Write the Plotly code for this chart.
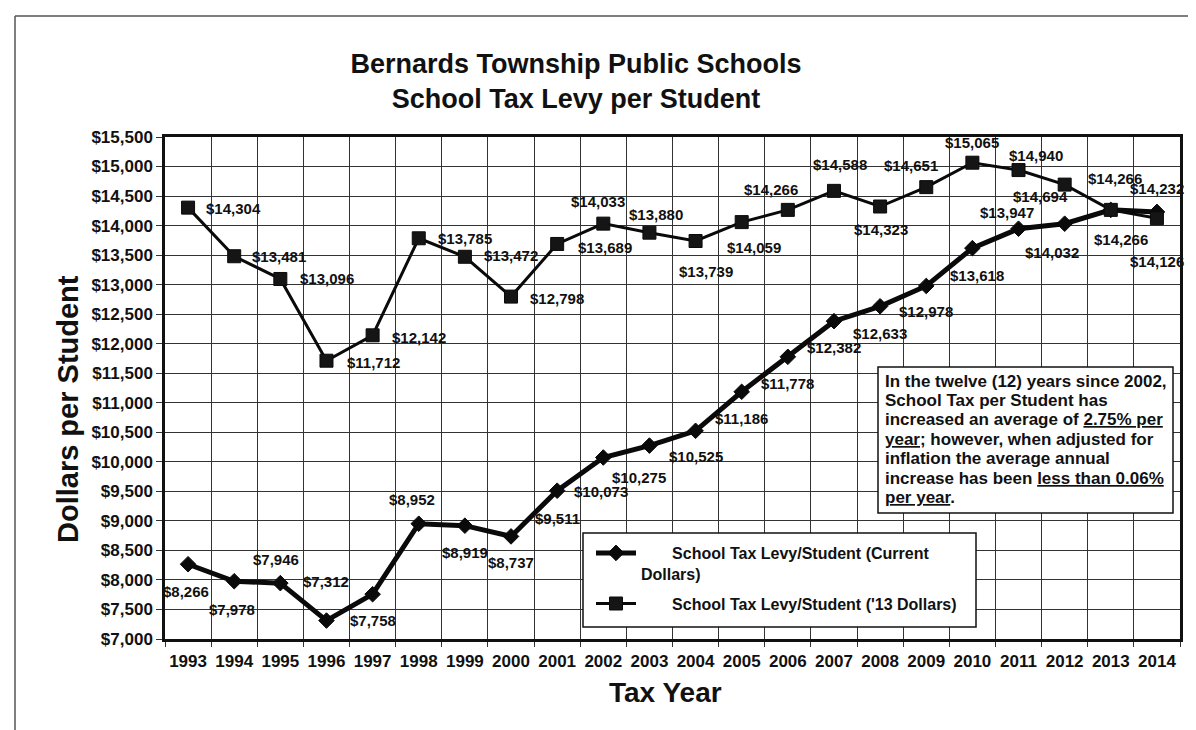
import plotly.graph_objects as go

# ---------------- data ----------------
years = list(range(1993, 2015))
current_dollars = [8266, 7978, 7946, 7312, 7758, 8952, 8919, 8737, 9511, 10073, 10275,
                   10525, 11186, 11778, 12382, 12633, 12978, 13618, 13947, 14032, 14266, 14232]
dollars_2013 = [14304, 13481, 13096, 11712, 12142, 13785, 13472, 12798, 13689, 14033, 13880,
                13739, 14059, 14266, 14588, 14323, 14651, 15065, 14940, 14694, 14266, 14126]
y_tick_values = list(range(7000, 15501, 500))
series_names = ["<b>&nbsp;&nbsp;&nbsp;&nbsp;&nbsp;&nbsp;&nbsp;School Tax Levy/Student (Current<br>Dollars)</b>",
                "<b>&nbsp;&nbsp;&nbsp;&nbsp;&nbsp;&nbsp;&nbsp;School Tax Levy/Student ('13 Dollars)</b>"]
note_lines = [
    "In the twelve (12) years since 2002,",
    "School Tax per Student has",
    "increased an average of <u>2.75% per</u>",
    "<u>year</u>; however, when adjusted for",
    "inflation the average annual",
    "increase has been <u>less than 0.06%</u>",
    "<u>per year</u>.",
]

# label offsets in pixels (dx right, dy down) -- styling only
cur_dx = [-2, -2, -4, 0, 0, -7, 0, 0, 0, -2, -10, 0, 0, 0, 0, 0, 0, 5, -12, -13, 10, 0]
cur_dy = [27, 28, -24, -39, 26, -24, 27, 26, 28, 34, 32, 26, 27, 27, 26, 27, 26, 27, -16, 29, 30, -23]
r13_dx = [45, 45, 47, 47, 46, 46, 46, 46, 48, -5, 7, 10, 12, -17, 6, 1, -15, 0, 17, -24, 4, 0]
r13_dy = [1, 0, 0, 2, 2, 0, -1, 2, 4, -22, -18, 30, 25, -20, -26, 23, -22, -20, -15, 12, -31, 43]

FONT = "Arial, Liberation Sans, Helvetica, sans-serif"
L, R, T, B = 157, 24, 129, 99
W, H = 1196, 730
PW, PH = W - L - R, H - T - B


def px_x(x):
    return (x - L) / PW


def px_y(y):
    return (H - B - y) / PH


fig = go.Figure()

fig.add_trace(go.Scatter(
    x=years, y=current_dollars, mode="lines+markers", name=series_names[0],
    line=dict(color="#0a0a0a", width=5),
    marker=dict(symbol="diamond", size=12, color="#0a0a0a", line=dict(color="#0a0a0a", width=1)),
    legendgroup="a",
))
fig.add_trace(go.Scatter(
    x=years, y=dollars_2013, mode="lines+markers", name=series_names[1],
    line=dict(color="#0a0a0a", width=3),
    marker=dict(symbol="square", size=13, color="#151515", line=dict(color="#0a0a0a", width=1)),
    legendgroup="b",
))

annotations = []
for yr, v, dx, dy in zip(years, current_dollars, cur_dx, cur_dy):
    annotations.append(dict(x=yr, y=v, xref="x", yref="y", text=f"<b>${v:,}</b>", showarrow=False,
                            xshift=dx, yshift=-dy, font=dict(family=FONT, size=15, color="#111")))
for yr, v, dx, dy in zip(years, dollars_2013, r13_dx, r13_dy):
    annotations.append(dict(x=yr, y=v, xref="x", yref="y", text=f"<b>${v:,}</b>", showarrow=False,
                            xshift=dx, yshift=-dy, font=dict(family=FONT, size=15, color="#111")))

# note box text, one line each
for i, line in enumerate(note_lines):
    annotations.append(dict(
        x=px_x(875), y=px_y(373 + i * 19.4), xref="paper", yref="paper",
        xanchor="left", yanchor="middle", align="left", showarrow=False,
        font=dict(family=FONT, size=17, color="#111"), text=f"<b>{line}</b>",
    ))

# axis titles
annotations.append(dict(x=px_x(42), y=px_y(401), xref="paper", yref="paper", textangle=-90,
                        showarrow=False, text="<b>Dollars per Student</b>",
                        font=dict(family=FONT, size=29, color="#111")))
annotations.append(dict(x=px_x(657), y=px_y(702), xref="paper", yref="paper",
                        showarrow=False, text="<b>Tax Year</b>",
                        font=dict(family=FONT, size=28, color="#111")))

shapes = [
    # note box
    dict(type="rect", xref="paper", yref="paper", x0=px_x(870), x1=px_x(1165), y0=px_y(505), y1=px_y(359),
         line=dict(color="#111", width=1.5), fillcolor="white", layer="above"),
    # legend box
    dict(type="rect", xref="paper", yref="paper", x0=px_x(575), x1=px_x(968), y0=px_y(619), y1=px_y(525),
         line=dict(color="#111", width=1.5), fillcolor="white", layer="above"),
    # outer frame (left and top)
    dict(type="line", xref="paper", yref="paper", x0=px_x(7), x1=px_x(7), y0=px_y(730), y1=px_y(8),
         line=dict(color="#555", width=1.5)),
    dict(type="line", xref="paper", yref="paper", x0=px_x(7), x1=px_x(1196), y0=px_y(8), y1=px_y(8),
         line=dict(color="#555", width=1.5)),
]

fig.update_layout(
    width=W, height=H,
    margin=dict(l=L, r=R, t=T, b=B),
    paper_bgcolor="white", plot_bgcolor="white",
    title=dict(text="<b>Bernards Township Public Schools<br>School Tax Levy per Student</b>",
               x=568 / W, xref="container", xanchor="center",
               y=1 - 65 / H, yref="container", yanchor="middle",
               font=dict(family=FONT, size=27, color="#111")),
    showlegend=True,
    legend=dict(x=px_x(583), y=px_y(528), xanchor="left", yanchor="top",
                bgcolor="rgba(0,0,0,0)", borderwidth=0, valign="top", tracegroupgap=6,
                font=dict(family=FONT, size=16, color="#111"), itemwidth=40),
    annotations=annotations,
    shapes=shapes,
    font=dict(family=FONT, color="#111"),
)

fig.update_xaxes(
    range=[1992.5, 2014.5], tickmode="array", tickvals=years,
    ticktext=[f"<b>{y}</b>" for y in years],
    tickfont=dict(family=FONT, size=17, color="#111"),
    ticks="outside", ticklen=5, tickcolor="rgba(0,0,0,0)",
    showgrid=False, zeroline=False,
    showline=True, linecolor="#111", linewidth=2.5, mirror=True,
    minor=dict(tick0=1992.5, dtick=1, showgrid=True, gridcolor="#333", gridwidth=1,
               ticks="outside", ticklen=5, tickcolor="#333"),
)
fig.update_yaxes(
    range=[7000, 15500], tickmode="array", tickvals=y_tick_values,
    ticktext=[f"<b>${v:,}</b>" for v in y_tick_values],
    tickfont=dict(family=FONT, size=17, color="#111"),
    ticks="outside", ticklen=6, tickcolor="#333",
    showgrid=True, gridcolor="#333", gridwidth=1, zeroline=False,
    showline=True, linecolor="#111", linewidth=2.5, mirror=True,
)

fig.write_html("out.html")
